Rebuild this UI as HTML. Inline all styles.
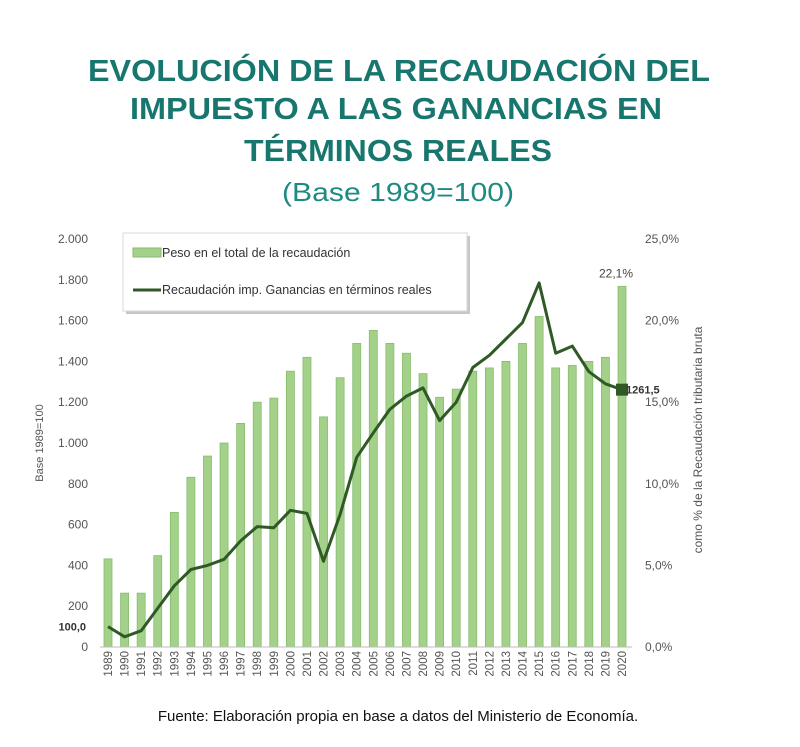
<!DOCTYPE html>
<html><head><meta charset="utf-8">
<style>
html,body{margin:0;padding:0;background:#fff;}
svg{display:block;font-family:"Liberation Sans",sans-serif;}
</style></head>
<body>
<svg id="chart" width="800" height="747" viewBox="0 0 800 747" xmlns="http://www.w3.org/2000/svg">
  <g fill="#17766e" font-weight="bold" font-size="31" text-anchor="middle">
    <text x="399" y="81" textLength="622" lengthAdjust="spacingAndGlyphs">EVOLUCIÓN DE LA RECAUDACIÓN DEL</text>
    <text x="396" y="119" textLength="532" lengthAdjust="spacingAndGlyphs">IMPUESTO A LAS GANANCIAS EN</text>
    <text x="398" y="161" textLength="308" lengthAdjust="spacingAndGlyphs">TÉRMINOS REALES</text>
  </g>
  <text x="398" y="201" text-anchor="middle" font-size="26" fill="#1f8a80" textLength="232" lengthAdjust="spacingAndGlyphs">(Base 1989=100)</text>

  <g id="plot"></g>

  <g>
    <rect x="126" y="236" width="344" height="78" fill="#c8c8c8"/>
    <rect x="123" y="233" width="344" height="78" fill="#fff" stroke="#d8d8d8"/>
    <rect x="133" y="248" width="28" height="9" fill="#a3d18a" stroke="#86bd6c"/>
    <text x="162" y="257" font-size="12.5" fill="#333">Peso en el total de la recaudación</text>
    <line x1="133" y1="290" x2="161" y2="290" stroke="#2f5a25" stroke-width="3"/>
    <text x="162" y="294" font-size="12.5" fill="#333">Recaudación imp. Ganancias en términos reales</text>
  </g>

  <text x="398" y="721" text-anchor="middle" font-size="15" fill="#111">Fuente: Elaboración propia en base a datos del Ministerio de Economía.</text>
</svg>
<script>
const years = ["1989","1990","1991","1992","1993","1994","1995","1996","1997","1998","1999","2000","2001","2002","2003","2004","2005","2006","2007","2008","2009","2010","2011","2012","2013","2014","2015","2016","2017","2018","2019","2020"];
const sharePct = [5.4,3.3,3.3,5.6,8.25,10.4,11.7,12.5,13.7,15.0,15.25,16.9,17.75,14.1,16.5,18.6,19.4,18.6,18.0,16.75,15.3,15.8,16.9,17.1,17.5,18.6,20.25,17.1,17.25,17.5,17.75,22.1];
const realIndex = [100,50,80,190,300,380,400,430,520,590,585,670,655,420,650,930,1050,1165,1230,1270,1110,1200,1370,1430,1510,1590,1785,1440,1475,1350,1290,1261.5];
const leftTicks = ["0","200","400","600","800","1.000","1.200","1.400","1.600","1.800","2.000"];
const leftTickValues = [0,200,400,600,800,1000,1200,1400,1600,1800,2000];
const rightTicks = ["0,0%","5,0%","10,0%","15,0%","20,0%","25,0%"];
const rightTickValues = [0,5,10,15,20,25];

const NS = "http://www.w3.org/2000/svg";
const plot = document.getElementById("plot");
const y0 = 647, yTop = 239, x0 = 108, xStep = (622-108)/31;
const yL = v => y0 - (v/2000)*(y0-yTop);
const yR = v => y0 - (v/25)*(y0-yTop);
const xB = i => x0 + i*xStep;
function mk(tag, attrs){ const e=document.createElementNS(NS,tag); for(const k in attrs) e.setAttribute(k,attrs[k]); plot.appendChild(e); return e; }

leftTickValues.forEach((v,i)=>{
  const t = mk("text",{x:88,y:yL(v)+4,"text-anchor":"end","font-size":"12",fill:"#555"});
  t.textContent = leftTicks[i];
  
  
});
const hl = mk("text",{x:86,y:yL(100)+4,"text-anchor":"end","font-size":"11","font-weight":"bold",fill:"#333"});
hl.textContent = "100,0";


rightTickValues.forEach((v,i)=>{
  const t = mk("text",{x:645,y:yR(v)+4,"font-size":"12",fill:"#555"});
  t.textContent = rightTicks[i];
  
  
});
const lt = mk("text",{transform:"translate(43,443) rotate(-90)","text-anchor":"middle","font-size":"11",fill:"#555"});
lt.textContent = "Base 1989=100";


const rt = mk("text",{transform:"translate(702,440) rotate(-90)","text-anchor":"middle","font-size":"12",fill:"#555"});
rt.textContent = "como % de la Recaudación tributaria bruta";



sharePct.forEach((v,i)=>{
  const b = mk("rect",{x:xB(i)-4,y:yR(v),width:8,height:y0-yR(v),fill:"#a3d18a",stroke:"#86bd6c","stroke-width":"0.8"});
  
  
});
const ax = mk("line",{x1:100,y1:y0,x2:632,y2:y0,stroke:"#bbb"});


years.forEach((yr,i)=>{
  const t = mk("text",{transform:`translate(${xB(i)+4},${651}) rotate(-90)`,"text-anchor":"end","font-size":"11.5",fill:"#555"});
  t.textContent = yr;
  
  
});
const pts = realIndex.map((v,i)=>xB(i).toFixed(1)+","+yL(v).toFixed(1)).join(" ");
const pl = mk("polyline",{points:pts,fill:"none",stroke:"#2f5a25","stroke-width":"3","stroke-linejoin":"round"});


const last = realIndex.length-1;
const m = mk("rect",{x:xB(last)-6,y:yL(realIndex[last])-6,width:12,height:12,fill:"#2f5a25"});


const ml = mk("text",{x:xB(last)+4,y:yL(realIndex[last])+4,"font-size":"11","font-weight":"bold",fill:"#333"});
ml.textContent = "1261,5";


const bl = mk("text",{x:xB(last)-6,y:yR(sharePct[last])-9,"text-anchor":"middle","font-size":"12",fill:"#444"});
bl.textContent = "22,1%";


</script>
</body></html>
